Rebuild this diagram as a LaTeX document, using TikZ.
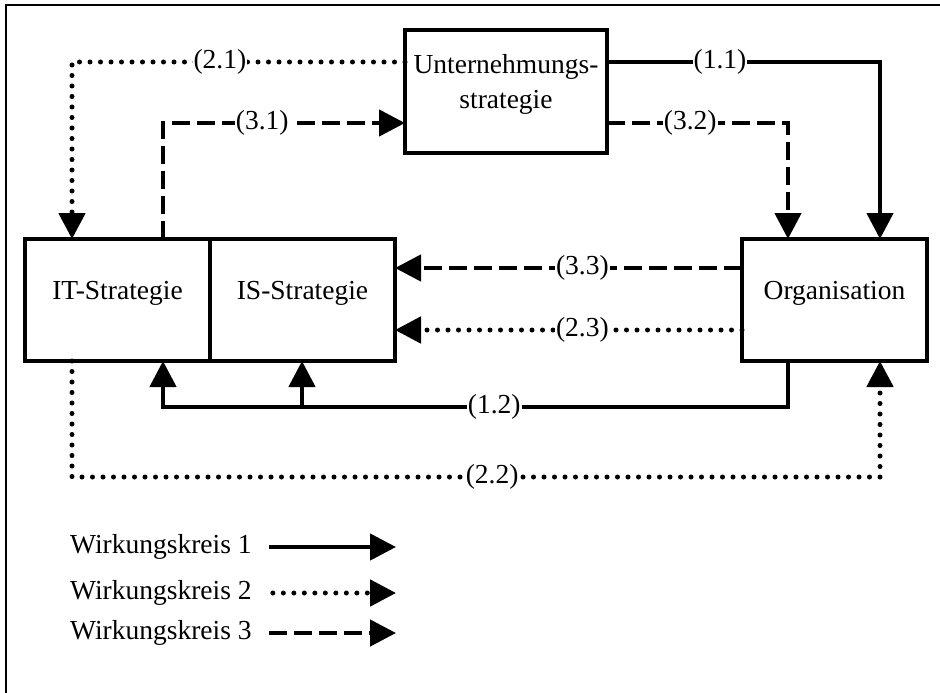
\documentclass[tikz,border=0pt]{standalone}
\usepackage{fontspec}
\setmainfont{Liberation Serif}
\usetikzlibrary{arrows.meta, positioning, calc}

\begin{document}
\begin{tikzpicture}[
  x=1pt, y=-1pt,
  every node/.style = {font=\fontsize{27.5}{35}\selectfont},
  box/.style = {draw, line width=3.5pt, outer sep=0pt, minimum width=185pt, minimum height=122pt, text depth=20pt, align=center},
  lbl/.style = {fill=white, inner sep=1pt},
  legend/.style = {anchor=west, inner sep=0pt},
  arrow/.style = {-{Triangle[length=26pt, width=26pt]}},
  solidline/.style = {line width=4.5pt},
  dashline/.style = {line width=4.5pt, dash pattern=on 18pt off 7pt},
  dotline/.style = {line width=5pt, line cap=round, dash pattern=on 0pt off 10.5pt},
  frame/.style = {line width=1.8pt}
]

  \useasboundingbox (0,0) rectangle (940,693);
  \draw[frame] (6,693) |- (940,5);

  % ======================================================
  % Boxes
  % ======================================================
  \node[box, minimum width=202pt, minimum height=123pt] (unt) at (506,91.5) {Unternehmungs-\\strategie};
  \node[box] (it) at (117.5,300) {IT-Strategie};
  \node[box, right=0pt of it] (is) {IS-Strategie};
  \node[box] (org) at (834.5,300) {Organisation};

  % rows and columns of the connectors
  \coordinate (row1) at (0,62);
  \coordinate (row2) at (0,123);
  \coordinate (row33) at (0,268);
  \coordinate (row23) at (0,330);
  \coordinate (row12) at (0,407);
  \coordinate (row22) at (0,477);
  \coordinate (col21) at (72,0);
  \coordinate (col31) at (163,0);
  \coordinate (col12) at (302,0);
  \coordinate (col32) at (788,0);
  \coordinate (col11) at (880,0);

  % Unternehmungsstrategie -> IT-Strategie (2.1)
  \draw[dotline, arrow] (unt.west |- row1) -| (it.north -| col21) node[lbl, pos=0.278] {(2.1)};

  % IT-Strategie -> Unternehmungsstrategie (3.1)
  \draw[dashline, arrow] (it.north -| col31) |- (unt.west |- row2) node[lbl, pos=0.705] {(3.1)};

  % Unternehmungsstrategie -> Organisation (1.1), (3.2)
  \draw[solidline, arrow] (unt.east |- row1) -| (org.north -| col11) node[lbl, pos=0.207] {(1.1)};
  \draw[dashline, arrow] (unt.east |- row2) -| (org.north -| col32) node[lbl, pos=0.23] {(3.2)};

  % Organisation -> IS-Strategie (3.3), (2.3)
  \draw[dashline, arrow] (org.west |- row33) -- (is.east |- row33) node[lbl, pos=0.46] {(3.3)};
  \draw[dotline, arrow] (org.west |- row23) -- (is.east |- row23) node[lbl, pos=0.46] {(2.3)};

  % Organisation -> IT/IS-Strategie (1.2)
  \draw[solidline, arrow] (org.south -| col32) |- (col31 |- row12) node[lbl, pos=0.735] {(1.2)} -- (it.south -| col31);
  \draw[solidline, arrow] (col12 |- row12) -- (is.south -| col12);

  % IT-Strategie -> Organisation (2.2)
  \draw[dotline, arrow] (it.south -| col21) |- (col11 |- row22) node[lbl, pos=0.76] {(2.2)} -- (org.south -| col11);

  % ======================================================
  % Legend
  % ======================================================
  \node[legend] (leg1) at (70,547) {Wirkungskreis 1};
  \node[legend] (leg2) at (70,593) {Wirkungskreis 2};
  \node[legend] (leg3) at (70,633) {Wirkungskreis 3};
  \coordinate (legend-end) at (396,0);
  \draw[solidline, arrow] ([xshift=17pt]leg1.east) -- (leg1.east -| legend-end);
  \draw[dotline, arrow] ([xshift=21pt]leg2.east) -- (leg2.east -| legend-end);
  \draw[dashline, arrow] ([xshift=17pt]leg3.east) -- (leg3.east -| legend-end);

\end{tikzpicture}
\end{document}
